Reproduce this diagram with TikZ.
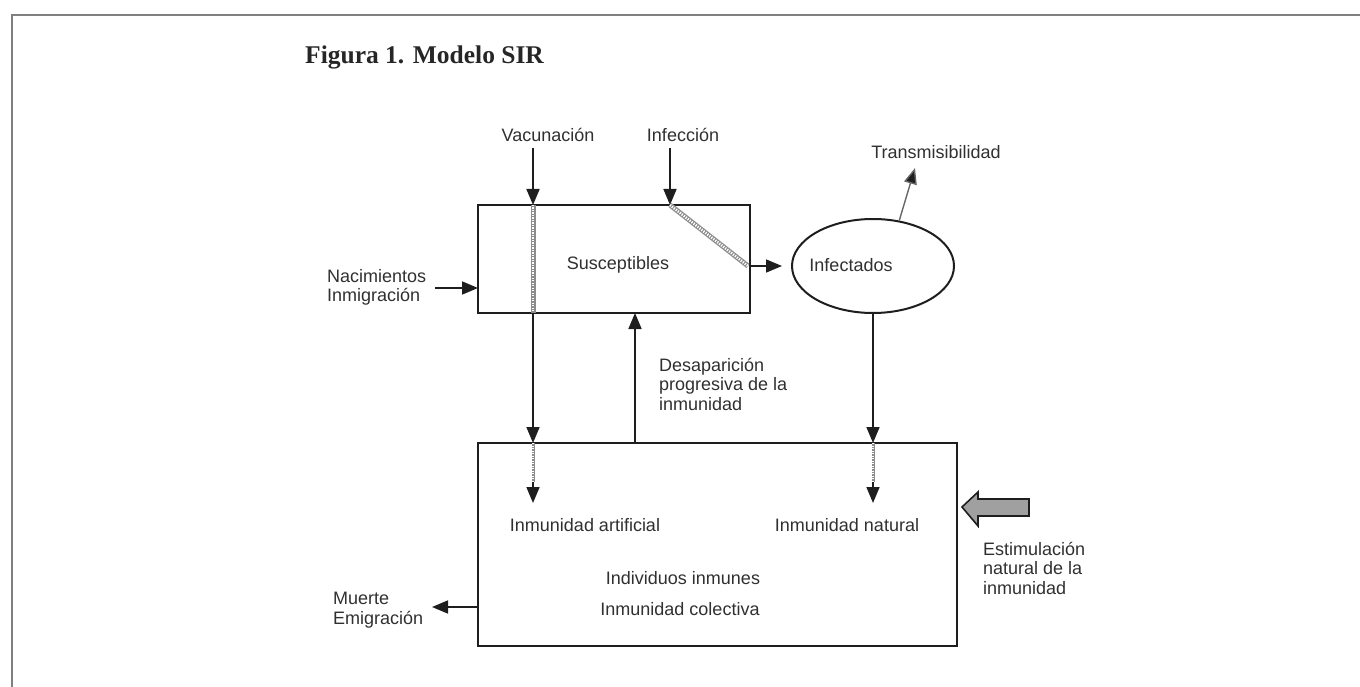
\documentclass[tikz,border=0pt]{standalone}
\usepackage{fontspec}
\setmainfont{Liberation Serif}
\setsansfont{Liberation Sans}
\usetikzlibrary{arrows.meta,shapes.geometric}
\definecolor{txt}{HTML}{303030}
\definecolor{ln}{HTML}{1E1E1E}
\definecolor{frame}{HTML}{808080}
\definecolor{blockgray}{HTML}{A0A0A0}
\tikzset{
  lbl/.style={font=\sffamily\fontsize{18}{19.5}\selectfont, text=txt, inner sep=0pt},
  mlbl/.style={lbl, align=left, anchor=west},
  boxnode/.style={draw=ln, line width=2pt, inner sep=0pt},
  arr/.style={draw=ln, line width=1.7pt, -{Triangle[width=13pt,length=16pt]}},
  hatchA/.style={draw=black!45, line width=5pt},
  hatchB/.style={draw=white, line width=2.6pt, dash pattern=on 1.2pt off 1.3pt},
}
\begin{document}
\begin{tikzpicture}[x=1pt,y=-1pt]
\useasboundingbox (0,0) rectangle (1360,687);
% frame
\draw[frame, line width=2pt] (12,687) -- (12,15) -- (1360,15);
% title
\node[anchor=base west, inner sep=0pt, font=\bfseries\fontsize{25.5}{30}\selectfont, text=black!85] (title) at (305,64) {Figura 1. Modelo SIR};

% boxes
\node[boxnode, minimum width=272pt, minimum height=108pt] (S) at (614,259) {};
\node[boxnode, minimum width=479pt, minimum height=203pt] (R) at (717.5,544.5) {};
\node[draw=ln, line width=2pt, ellipse, minimum width=162pt, minimum height=94pt, inner sep=0pt] (I) at (873,266) {};

% labels
\node[lbl] (sus) at (618,265) {Susceptibles};
\node[lbl] (inf) at (851,265) {Infectados};
\node[lbl] (vac) at (548,135) {Vacunación};
\node[lbl] (infc) at (683,135) {Infección};
\node[lbl] (tra) at (936,152) {Transmisibilidad};
\node[mlbl] (nac) at (327,287.5) {Nacimientos\\Inmigración};
\node[mlbl] (des) at (659,384) {Desaparición\\progresiva de la\\inmunidad};
\node[lbl] (iart) at (585,525) {Inmunidad artificial};
\node[lbl] (inat) at (847,525) {Inmunidad natural};
\node[lbl] (ind) at (683,578) {Individuos inmunes};
\node[lbl] (col) at (680,609) {Inmunidad colectiva};
\node[mlbl] (mue) at (333,610) {Muerte\\Emigración};
\node[mlbl] (est) at (983,568) {Estimulación\\natural de la\\inmunidad};

% coordinates
\coordinate (v0) at (533,148);
\coordinate (v1) at (533,205);
\coordinate (v2) at (533,313);
\coordinate (v3) at (533,443);
\coordinate (v4) at (533,482);
\coordinate (v5) at (533,503);
\coordinate (i0) at (670,148);
\coordinate (i1) at (670,205);
\coordinate (i2) at (748,266);
\coordinate (n3) at (873,443);
\coordinate (n4) at (873,482);
\coordinate (n5) at (873,503);
\coordinate (t1) at (915,168);
\coordinate (d0) at (635,443);
\coordinate (d1) at (635,313);
\coordinate (na0) at (435,288);
\coordinate (na1) at (478,288);
\coordinate (m0) at (478,607);
\coordinate (m1) at (432,607);

% vaccination path
\draw[arr] (v0) -- (v1);
\draw[hatchA] (v1) -- (v2);
\draw[hatchB] (v1) -- (v2);
\draw[arr] (v2) -- (v3);
\draw[hatchA, line width=3pt] (v3) -- (v4);
\draw[hatchB, line width=1.2pt] (v3) -- (v4);
\draw[arr] (v4) -- (v5);

% infection path
\draw[arr] (i0) -- (i1);
\draw[hatchA] (i1) -- (i2);
\draw[hatchB] (i1) -- (i2);
\draw[arr, shorten >=9pt] (S.east |- I.west) -- (I.west);

% transmisibilidad
\draw[draw=black!60, line width=1.4pt, -{Triangle[width=13pt,length=16pt,fill=ln]}] (I.60) -- (t1);

% infectados to recovered
\draw[arr] (I.south) -- (n3);
\draw[hatchA, line width=3pt] (n3) -- (n4);
\draw[hatchB, line width=1.2pt] (n3) -- (n4);
\draw[arr] (n4) -- (n5);

% loss of immunity
\draw[arr] (d0) -- (d1);

% births, deaths
\draw[arr] (na0) -- (na1);
\draw[arr] (m0) -- (m1);

% block arrow
\draw[draw=ln, line width=1.6pt, fill=blockgray, line join=miter]
  (962,507) -- (978,492) -- (978,499) -- (1029,499) -- (1029,516) -- (978,516) -- (978,526) -- cycle;
\end{tikzpicture}
\end{document}
